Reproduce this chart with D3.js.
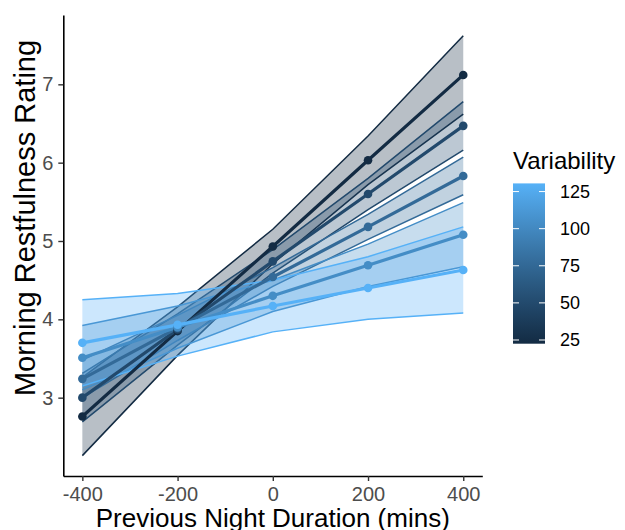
<!DOCTYPE html>
<html>
<head>
<meta charset="utf-8">
<script src="https://cdn.jsdelivr.net/npm/d3@7"></script>
<style>
  body { margin: 0; background: #fff; }
  svg { display: block; font-family: "Liberation Sans", Arial, sans-serif; }
</style>
</head>
<body>
<div id="chart"></div>
<script>
// x positions the model was evaluated at
var nightDuration = [-400, -200, 0, 200, 400];
// moderator levels (one line per level)
var variability = [22.5, 49.5, 76.5, 103.5, 130.5];
// predicted rating per level
var fitted = [
  [2.76, 3.85, 4.93, 6.03, 7.12],
  [3.00, 3.87, 4.74, 5.60, 6.47],
  [3.24, 3.89, 4.54, 5.18, 5.83],
  [3.51, 3.90, 4.30, 4.69, 5.08],
  [3.70, 3.93, 4.17, 4.40, 4.63]
];
var lower = [
  [2.26, 3.54, 4.71, 5.72, 6.62],
  [2.69, 3.67, 4.59, 5.40, 6.16],
  [3.00, 3.73, 4.42, 5.02, 5.59],
  [3.10, 3.63, 4.10, 4.42, 4.67],
  [3.15, 3.53, 3.84, 4.00, 4.08]
];
var upper = [
  [3.26, 4.16, 5.15, 6.34, 7.62],
  [3.31, 4.07, 4.89, 5.80, 6.78],
  [3.48, 4.05, 4.66, 5.34, 6.07],
  [3.92, 4.17, 4.50, 4.96, 5.49],
  [4.25, 4.33, 4.50, 4.80, 5.18]
];
var xTicks = [-400, -200, 0, 200, 400];
var yTicks = [3, 4, 5, 6, 7];
var legendTicks = [25, 50, 75, 100, 125];
var varLimits = [22.5, 130.5];

var width = 625, height = 530;
var svg = d3.select('#chart').append('svg')
  .attr('width', width)
  .attr('height', height);

var x = d3.scaleLinear().domain([-440, 440]).range([63.3, 482.3]);
var y = d3.scaleLinear().domain([2.0, 7.885]).range([476, 15]);
var colour = d3.scaleLinear().domain(varLimits)
  .range(['#132B43', '#56B1F7'])
  .interpolate(d3.interpolateLab);

// one record per level
var groups = variability.map(function (v, i) {
  return {
    v: v,
    pts: nightDuration.map(function (d, j) {
      return { x: d, fit: fitted[i][j], lo: lower[i][j], hi: upper[i][j] };
    })
  };
});

var area = d3.area()
  .x(function (d) { return x(d.x); })
  .y0(function (d) { return y(d.lo); })
  .y1(function (d) { return y(d.hi); });
var edge = function (key) {
  return d3.line()
    .x(function (d) { return x(d.x); })
    .y(function (d) { return y(d[key]); });
};

var plot = svg.append('g');

// ribbons + their outlines
groups.forEach(function (g) {
  var c = colour(g.v);
  plot.append('path').datum(g.pts)
    .attr('d', area)
    .attr('fill', c)
    .attr('fill-opacity', 0.3);
  plot.append('path').datum(g.pts)
    .attr('d', edge('lo'))
    .attr('fill', 'none').attr('stroke', c).attr('stroke-width', 1.5);
  plot.append('path').datum(g.pts)
    .attr('d', edge('hi'))
    .attr('fill', 'none').attr('stroke', c).attr('stroke-width', 1.5);
});

// fitted lines
groups.forEach(function (g) {
  plot.append('path').datum(g.pts)
    .attr('d', edge('fit'))
    .attr('fill', 'none')
    .attr('stroke', colour(g.v))
    .attr('stroke-width', 3.2);
});

// points
groups.forEach(function (g) {
  plot.selectAll(null).data(g.pts).enter()
    .append('circle')
    .attr('cx', function (d) { return x(d.x); })
    .attr('cy', function (d) { return y(d.fit); })
    .attr('r', 4.3)
    .attr('fill', colour(g.v));
});

// axes (plain hyphen minus, integer labels)
var fmt = function (d) { return String(d); };
var xAxis = svg.append('g')
  .attr('transform', 'translate(0,476)')
  .call(d3.axisBottom(x).tickValues(xTicks).tickFormat(fmt)
    .tickSizeOuter(0).tickSizeInner(5).tickPadding(6));
var yAxis = svg.append('g')
  .attr('transform', 'translate(63.3,0)')
  .call(d3.axisLeft(y).tickValues(yTicks).tickFormat(fmt)
    .tickSizeOuter(0).tickSizeInner(5).tickPadding(5));
[xAxis, yAxis].forEach(function (a) {
  a.select('.domain').attr('stroke', '#000').attr('stroke-width', 1.6);
  a.selectAll('.tick line').attr('stroke', '#333').attr('stroke-width', 1.4);
  a.selectAll('.tick text')
    .attr('fill', '#4d4d4d')
    .style('font-size', '20px')
    .style('font-family', '"Liberation Sans", Arial, sans-serif');
});

svg.append('text')
  .attr('x', x(0))
  .attr('y', 527)
  .attr('text-anchor', 'middle')
  .style('font-size', '26px')
  .attr('fill', '#000')
  .text('Previous Night Duration (mins)');

svg.append('text')
  .attr('transform', 'translate(35,218) rotate(-90)')
  .attr('text-anchor', 'middle')
  .style('font-size', '29px')
  .attr('fill', '#000')
  .text('Morning Restfulness Rating');

// colour bar legend
var lg = svg.append('g');
var barX = 513, barW = 32;
var ly = d3.scaleLinear().domain(varLimits).range([343.7, 183.4]);
var grad = svg.append('defs').append('linearGradient')
  .attr('id', 'varGrad')
  .attr('x1', 0).attr('y1', 1).attr('x2', 0).attr('y2', 0);
d3.range(0, 1.0001, 0.1).forEach(function (t) {
  grad.append('stop')
    .attr('offset', t)
    .attr('stop-color', colour(varLimits[0] + t * (varLimits[1] - varLimits[0])));
});
lg.append('rect')
  .attr('x', barX)
  .attr('y', ly(varLimits[1]))
  .attr('width', barW)
  .attr('height', ly(varLimits[0]) - ly(varLimits[1]))
  .attr('fill', 'url(#varGrad)');
legendTicks.forEach(function (t) {
  lg.append('line')
    .attr('x1', barX).attr('x2', barX + 6)
    .attr('y1', ly(t)).attr('y2', ly(t))
    .attr('stroke', '#fff').attr('stroke-width', 1);
  lg.append('line')
    .attr('x1', barX + barW - 6).attr('x2', barX + barW)
    .attr('y1', ly(t)).attr('y2', ly(t))
    .attr('stroke', '#fff').attr('stroke-width', 1);
  lg.append('text')
    .attr('x', 560)
    .attr('y', ly(t))
    .attr('dy', '0.35em')
    .style('font-size', '18px')
    .attr('fill', '#000')
    .text(t);
});
lg.append('text')
  .attr('x', 513)
  .attr('y', 169)
  .style('font-size', '24px')
  .attr('fill', '#000')
  .text('Variability');
</script>
</body>
</html>
